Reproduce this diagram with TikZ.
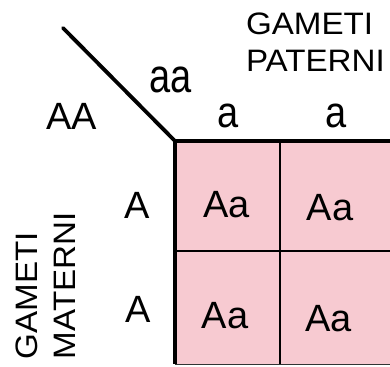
\documentclass[tikz,border=0pt]{standalone}
\usepackage{fontspec}
\usepackage{graphicx}
\setmainfont{Liberation Sans}
\definecolor{cellpink}{RGB}{247,202,209}
\newcommand{\wide}[1]{\scalebox{1.07}[1]{#1}}
\begin{document}
\begin{tikzpicture}[x=1pt,y=-1pt,
  lbl/.style={inner sep=0pt,outer sep=0pt,anchor=base,font=\fontsize{38}{40}\selectfont},
  ttl/.style={inner sep=0pt,outer sep=0pt,anchor=base west,font=\fontsize{31}{36}\selectfont},
  thickline/.style={line width=3.8pt,black},
  thinline/.style={line width=1.6pt,black}]
\useasboundingbox (0,0) rectangle (390,366);
\begin{scope}
\clip (0,0) rectangle (390,366);
% cells
\fill[cellpink] (175,141) rectangle (392,364);
\draw[thinline,line width=2.6pt] (175,251) -- (392,251);
\draw[thinline] (280,141) -- (280,364);
\draw[black!80,line width=1.2pt] (175,364.5) -- (392,364.5);
\draw[thickline] (175,141) -- (392,141);
\draw[thickline] (175,139.2) -- (175,364);
\coordinate (c) at (175,141);
\coordinate (d) at (63,28);
\draw[thickline,line cap=round] (d) -- (c);
\end{scope}
% titles
\node[ttl] (gp1) at (246,35) {\wide{GAMETI}};
\node[ttl] (gp2) at (246,72) {\wide{PATERNI}};
\node[ttl,rotate=90] (gm1) at (37,359) {\wide{GAMETI}};
\node[ttl,rotate=90] (gm2) at (75,359) {\wide{MATERNI}};
% parents
\node[lbl] (AA) at (71.5,130) {AA};
\node[lbl] (aa) at (171,93) {\scalebox{1}[1.25]{aa}};
% gametes
\node[lbl] (p1) at (228,128) {\scalebox{1}[1.15]{a}};
\node[lbl] (p2) at (336,128) {\scalebox{1}[1.15]{a}};
\node[lbl] (m1) at (137.5,218) {A};
\node[lbl] (m2) at (138.5,322) {A};
% offspring
\node[lbl] (o11) at (226.5,217) {Aa};
\node[lbl] (o12) at (330,220) {Aa};
\node[lbl] (o21) at (225,328) {Aa};
\node[lbl] (o22) at (328.5,331) {Aa};
\end{tikzpicture}
\end{document}
